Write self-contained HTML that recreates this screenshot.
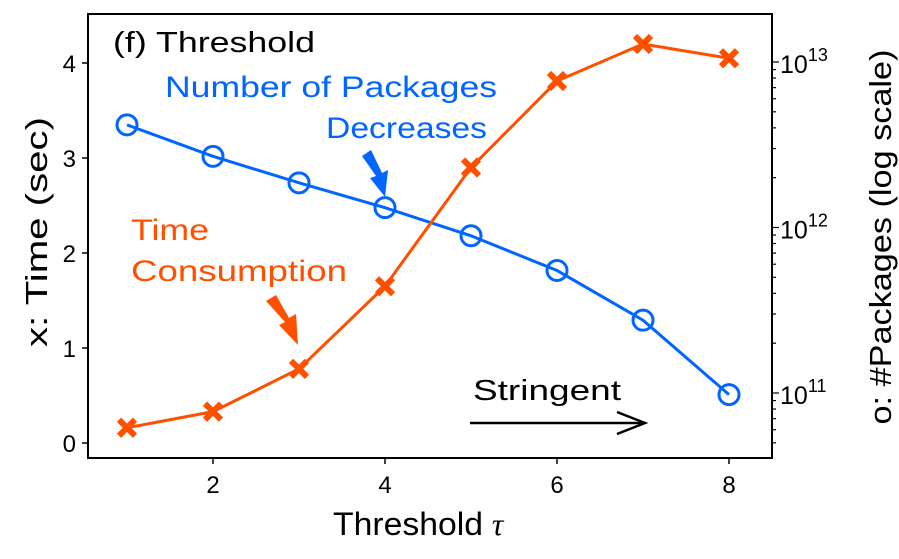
<!DOCTYPE html>
<html><head><meta charset="utf-8"><style>
html,body{margin:0;padding:0;background:#fff;}
svg{display:block;font-family:"Liberation Sans",sans-serif;}
</style></head><body>
<svg id="chart" width="899" height="559" viewBox="0 0 899 559">
<rect x="0" y="0" width="899" height="559" fill="#fff"/>
<rect x="88" y="14" width="684" height="444" fill="none" stroke="#000" stroke-width="2"/>
<g id="axes"></g>
<g id="series"></g>
<text x="113" y="52" font-size="29" fill="#000" textLength="202" lengthAdjust="spacingAndGlyphs">(f) Threshold</text>
<text x="165" y="97" font-size="30" fill="#0066ff" textLength="332" lengthAdjust="spacingAndGlyphs">Number of Packages</text>
<text x="326" y="138" font-size="30" fill="#0066ff" textLength="161" lengthAdjust="spacingAndGlyphs">Decreases</text>
<text x="131" y="240" font-size="30" fill="#ff5000" textLength="78" lengthAdjust="spacingAndGlyphs">Time</text>
<text x="131" y="281" font-size="30" fill="#ff5000" textLength="216" lengthAdjust="spacingAndGlyphs">Consumption</text>
<polygon points="362,156 371,150 382,173 388,170 385,197 370,178 376,176" fill="#0066ff"/>
<polygon points="266,301 276,295 289,318 296,314 298,345 279,325 285,322" fill="#ff5000"/>
<text x="473" y="400" font-size="29" fill="#000" textLength="148" lengthAdjust="spacingAndGlyphs">Stringent</text>
<g stroke="#000" stroke-width="2.5" fill="none">
<line x1="470" y1="423" x2="645" y2="423"/>
<polyline points="617,412 645,423 617,434"/>
</g>
<text x="333" y="535" font-size="32" fill="#000"><tspan textLength="150" lengthAdjust="spacingAndGlyphs">Threshold</tspan> <tspan font-style="italic" font-family="Liberation Serif, serif">τ</tspan></text>
<text transform="translate(47,232) rotate(-90)" font-size="31" text-anchor="middle" fill="#000" textLength="230" lengthAdjust="spacingAndGlyphs">x: Time (sec)</text>
<text transform="translate(891,237) rotate(-90)" font-size="31" text-anchor="middle" fill="#000" textLength="375" lengthAdjust="spacingAndGlyphs">o: #Packages (log scale)</text>
</svg>
<script>
var thresholds=[1,2,3,4,5,6,7,8];
var timeSec=[0.16,0.33,0.78,1.65,2.9,3.81,4.2,4.05];
var packagesLog10=[12.62,12.43,12.27,12.12,11.95,11.74,11.44,10.99];
var xTicks=[2,4,6,8];
var yLeftTicks=[0,1,2,3,4];
var yRightTicks=[11,12,13];
var NS='http://www.w3.org/2000/svg';
var L=88,R=772,T=14,B=458;
function sx(v){return 127+(v-1)*86;}
function syL(v){return 443-v*95;}
function syR(v){return 393-(v-11)*165.5;}
function mk(tag,attrs,parent){var e=document.createElementNS(NS,tag);for(var k in attrs)e.setAttribute(k,attrs[k]);parent.appendChild(e);return e;}
var axes=document.getElementById('axes'),series=document.getElementById('series');
xTicks.forEach(function(t){
 var l=mk('line',{x1:sx(t),x2:sx(t),y1:B,y2:B+6,stroke:'#000','stroke-width':1.5},axes);
 
 
 var tx=mk('text',{x:sx(t),y:B+35,'font-size':24,'text-anchor':'middle'},axes);tx.textContent=String(t);
 
 
});
yLeftTicks.forEach(function(t){
 var l=mk('line',{x1:L-6,x2:L,y1:syL(t),y2:syL(t),stroke:'#000','stroke-width':1.5},axes);
 
 
 var tx=mk('text',{x:L-12,y:syL(t)+9,'font-size':24,'text-anchor':'end'},axes);tx.textContent=String(t);
 
 
});
for(var d=10;d<=13;d++){for(var m=1;m<10;m++){var v=d+Math.log10(m);var y=syR(v);if(y<T||y>B)continue;
 var lt=mk('line',{x1:R,x2:R+(m===1?7:4),y1:y,y2:y,stroke:'#000','stroke-width':1.2},axes);
 
 }}
yRightTicks.forEach(function(t){
 var tx=mk('text',{x:R+8,y:syR(t)+11,'font-size':25},axes);
 tx.appendChild(document.createTextNode('10'));
 var sp=mk('tspan',{dy:-12,'font-size':18},tx);sp.textContent=String(t);
 
 
});
var pb=mk('polyline',{points:thresholds.map(function(t,i){return sx(t)+','+syR(packagesLog10[i]);}).join(' '),fill:'none',stroke:'#0066ff','stroke-width':3},series);


var po=mk('polyline',{points:thresholds.map(function(t,i){return sx(t)+','+syL(timeSec[i]);}).join(' '),fill:'none',stroke:'#ff5000','stroke-width':3},series);


thresholds.forEach(function(t,i){
 var c=mk('circle',{cx:sx(t),cy:syR(packagesLog10[i]),r:10,fill:'none',stroke:'#0066ff','stroke-width':3},series);
 
 
 var x=sx(t),y=syL(timeSec[i]),s=8;
 var g=mk('path',{d:'M'+(x-s)+','+(y-s)+'L'+(x+s)+','+(y+s)+'M'+(x-s)+','+(y+s)+'L'+(x+s)+','+(y-s),stroke:'#ff5000','stroke-width':6},series);
 
 
});
</script>
</body></html>
